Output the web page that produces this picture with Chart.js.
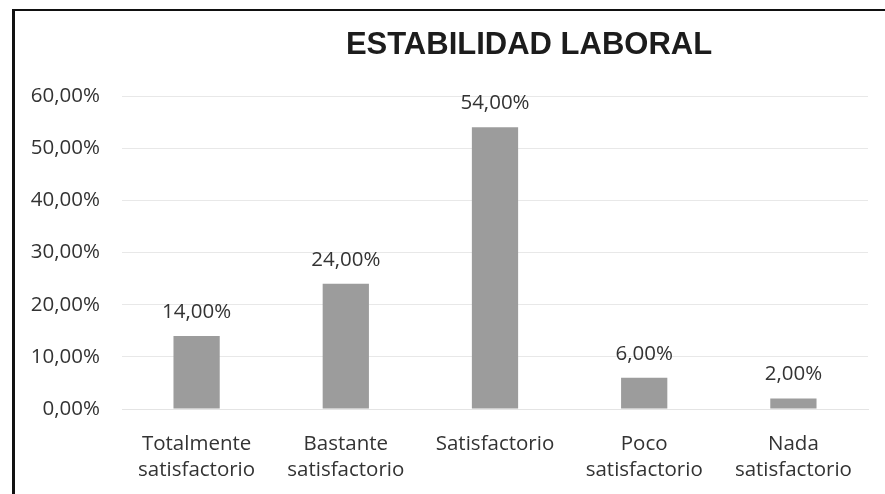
<!DOCTYPE html>
<html>
<head>
<meta charset="utf-8">
<script src="https://cdn.jsdelivr.net/npm/chart.js@4"></script>
<style>
  html, body { margin: 0; padding: 0; background: #fff; overflow: hidden; }
  .frame {
    position: absolute; left: 12px; top: 9px;
    width: 873px; height: 485px;
    border-left: 3px solid #111; border-top: 2px solid #111;
  }
  canvas { display: block; }
</style>
</head>
<body>
<div class="frame"><canvas id="myChart" width="870" height="483"></canvas></div>
<script>
const chartTitle = "ESTABILIDAD LABORAL";
const categories = [
    ["Totalmente", "satisfactorio"],
    ["Bastante", "satisfactorio"],
    "Satisfactorio",
    ["Poco", "satisfactorio"],
    ["Nada", "satisfactorio"]
];
const percentages = [14, 24, 54, 6, 2];
const yMin = 0;
const yMax = 60;
const yStep = 10;

const barColor = '#9c9c9c';
const textColor = '#333333';
const fontSize = 20.5;

function pctText(v) {
    return v.toFixed(2).replace('.', ',') + '%';
}

// title sits a bit right of the plot centre, like in the source picture
const titlePlugin = {
    id: 'titleText',
    afterDraw(chart) {
        const c = chart.ctx;
        c.save();
        c.font = 'bold 31px "Liberation Sans", Arial, sans-serif';
        c.fillStyle = '#1c1c1c';
        c.textAlign = 'center';
        c.textBaseline = 'middle';
        c.fillText(chartTitle, 514, 34);
        c.restore();
    }
};

// value labels above every bar
const valueLabels = {
    id: 'valueLabels',
    afterDatasetsDraw(chart) {
        const c = chart.ctx;
        const meta = chart.getDatasetMeta(0);
        c.save();
        c.font = fontSize + 'px "Open Sans", sans-serif';
        c.fillStyle = textColor;
        c.textAlign = 'center';
        c.textBaseline = 'middle';
        meta.data.forEach((bar, i) => {
            c.fillText(pctText(percentages[i]), bar.x, bar.y - 24);
        });
        c.restore();
    }
};

const ctx = document.getElementById('myChart');

const data = {
    labels: categories,
    datasets: [{
        data: percentages,
        backgroundColor: barColor,
        borderWidth: 0,
        categoryPercentage: 1,
        barPercentage: 0.31
    }]
};

const config = {
    type: 'bar',
    data: data,
    options: {
        responsive: false,
        animation: false,
        layout: {
            padding: { left: 0, right: 17, top: 85, bottom: 0 }
        },
        plugins: {
            legend: { display: false },
            tooltip: { enabled: false }
        },
        scales: {
            x: {
                grid: { display: false },
                border: { display: true, color: '#e4e4e4', width: 1 },
                ticks: {
                    color: textColor,
                    font: { family: 'Open Sans', size: fontSize, lineHeight: 1.27 },
                    padding: 14,
                    maxRotation: 0,
                    autoSkip: false
                },
                afterFit: (scale) => { scale.height = 85; }
            },
            y: {
                min: yMin,
                max: yMax,
                grid: { color: '#e8e8e8', drawTicks: false, lineWidth: 1 },
                border: { display: false },
                ticks: {
                    stepSize: yStep,
                    color: textColor,
                    font: { family: 'Open Sans', size: fontSize },
                    padding: 22,
                    callback: (v) => pctText(v)
                },
                afterFit: (scale) => { scale.width = 107; }
            }
        }
    },
    plugins: [titlePlugin, valueLabels]
};

let myChart = new Chart(ctx, config);
</script>
</body>
</html>
